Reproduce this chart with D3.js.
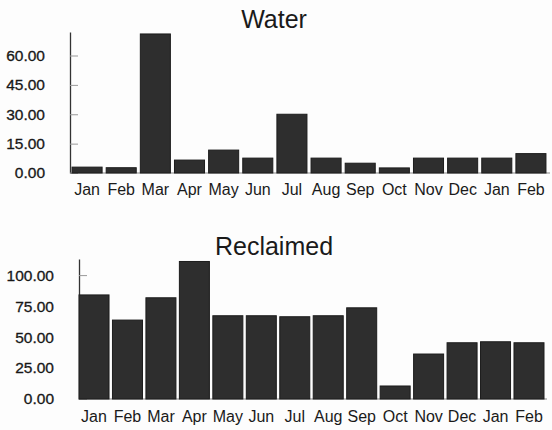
<!DOCTYPE html>
<html>
<head>
<meta charset="utf-8">
<script src="https://cdn.jsdelivr.net/npm/d3@7"></script>
<style>
  html, body { margin: 0; padding: 0; background: #fdfdfd; }
  svg { display: block; }
  text { font-family: "Liberation Sans", Arial, sans-serif; fill: #1a1a1a; }
</style>
</head>
<body>
<svg id="chart" width="552" height="430"></svg>
<script>
const months = ["Jan","Feb","Mar","Apr","May","Jun","Jul","Aug","Sep","Oct","Nov","Dec","Jan","Feb"];
const waterValues = [3.0, 2.7, 71, 6.6, 11.7, 7.6, 30, 7.6, 5.0, 2.6, 7.6, 7.6, 7.6, 9.9];
const reclaimedValues = [84, 63.7, 81.7, 111, 67.2, 67.2, 66.4, 67.2, 73.6, 10.5, 36.3, 45.4, 46.2, 45.4];
const waterTicks = [0, 15, 30, 45, 60];
const reclaimedTicks = [0, 25, 50, 75, 100];

const svg = d3.select("#chart");

function panel(cfg) {
  const g = svg.append("g");
  const x = d3.scaleBand().domain(d3.range(cfg.values.length))
    .range([cfg.x0, cfg.x1]).paddingInner(cfg.padIn).paddingOuter(cfg.padOut);
  const y = d3.scaleLinear().domain([0, cfg.max]).range([cfg.yBase, cfg.yTop]);

  // title
  g.append("text").attr("x", 274).attr("y", cfg.titleY)
    .attr("text-anchor", "middle").style("font-size", "25px").attr("fill", "#111").text(cfg.title);

  // y axis
  const ya = g.append("g").attr("transform", `translate(${cfg.axisX},0)`)
    .call(d3.axisLeft(y).tickValues(cfg.ticks).tickFormat(d3.format(".2f"))
      .tickSizeInner(-8).tickSizeOuter(0).tickPadding(25));
  ya.select(".domain").attr("stroke", "#333").attr("stroke-width", 1.3);
  ya.selectAll(".tick line").attr("stroke", "#999");
  ya.selectAll(".tick text").style("font-size", "15.5px").style("font-family", "Liberation Sans, Arial, sans-serif")
    .attr("fill", "#111").attr("stroke", "#111").attr("stroke-width", 0.3);

  // baseline
  g.append("line").attr("x1", cfg.axisX).attr("x2", cfg.x1 + 2)
    .attr("y1", y(0)).attr("y2", y(0)).attr("stroke", "#888").attr("stroke-width", 1.2);

  // bars
  g.selectAll("rect.bar").data(cfg.values).join("rect")
    .attr("class", "bar")
    .attr("x", (d, i) => x(i)).attr("width", x.bandwidth())
    .attr("y", d => y(d)).attr("height", d => y(0) - y(d))
    .attr("fill", "#2e2e2e").attr("stroke", "#1c1c1c").attr("stroke-width", 1);

  // x axis labels
  const xa = g.append("g").attr("transform", `translate(0,${y(0)})`)
    .call(d3.axisBottom(x).tickFormat(i => months[i]).tickSize(0).tickPadding(cfg.xPad));
  xa.select(".domain").remove();
  xa.selectAll(".tick text").style("font-size", "16px").style("font-family", "Liberation Sans, Arial, sans-serif").attr("fill", "#111");
}

panel({
  title: "Water", titleY: 28, values: waterValues, ticks: waterTicks, max: 72,
  x0: 70, x1: 548, padIn: 0.12, padOut: 0.06, axisX: 70,
  yBase: 173, yTop: 32, xPad: 11
});

panel({
  title: "Reclaimed", titleY: 255, values: reclaimedValues, ticks: reclaimedTicks, max: 113,
  x0: 78, x1: 545, padIn: 0.103, padOut: 0.03, axisX: 79,
  yBase: 399, yTop: 259, xPad: 12
});
</script>
</body>
</html>
